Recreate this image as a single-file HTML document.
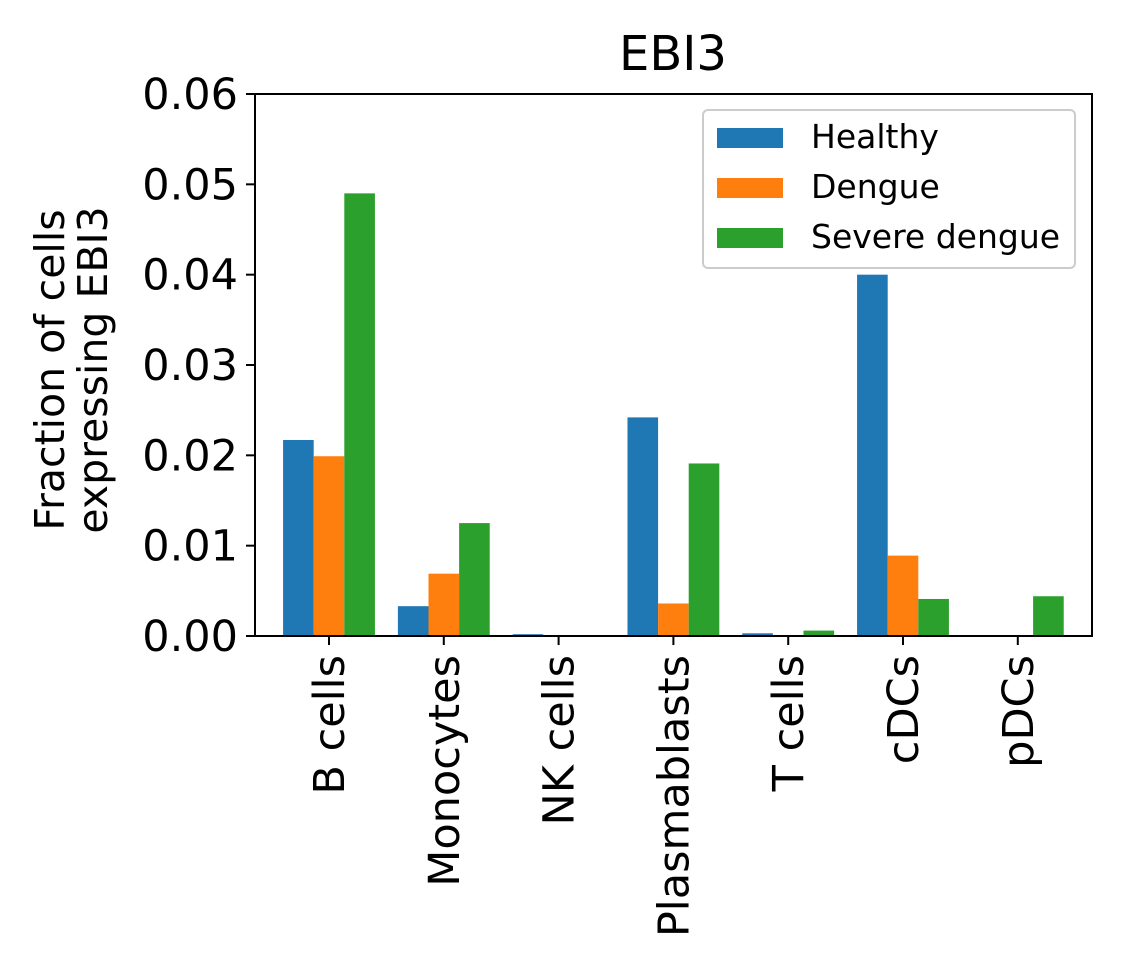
<!DOCTYPE html>
<html><head><meta charset="utf-8"><style>
html,body{margin:0;padding:0;background:#fff}
svg{display:block;font-family:"DejaVu Sans","Liberation Sans",sans-serif}
</style></head><body>
<svg id="chart" width="1121" height="969" viewBox="0 0 1121 969">
<text x="673" y="70" font-size="48" text-anchor="middle">EBI3</text>
<g id="bars"></g>
<g id="yaxis"></g>
<g id="xaxis"></g>
<rect x="255" y="94" width="837" height="542" fill="none" stroke="#000" stroke-width="2"/>
<g font-size="41" text-anchor="middle">
<text transform="translate(64,370) rotate(-90)">Fraction of cells</text>
<text transform="translate(107,370) rotate(-90)">expressing EBI3</text>
</g>
<g>
<rect x="703" y="110" width="372" height="158" rx="5" fill="#fff" stroke="#ccc" stroke-width="2"/>
<g id="legend-entries"></g>
</g>
</svg>
<script>
const categories=["B cells","Monocytes","NK cells","Plasmablasts","T cells","cDCs","pDCs"];
const seriesNames=["Healthy","Dengue","Severe dengue"];
const healthy=[0.0217,0.0033,0.0002,0.0242,0.0003,0.0400,0.0];
const dengue=[0.0199,0.0069,0.0001,0.0036,0.0,0.0089,0.0];
const severe=[0.0490,0.0125,0.0001,0.0191,0.0006,0.0041,0.0044];
const yTicks=[0,0.01,0.02,0.03,0.04,0.05,0.06];
const yTickLabels=["0.00","0.01","0.02","0.03","0.04","0.05","0.06"];
const colors=["#1f77b4","#ff7f0e","#2ca02c"];
const NS="http://www.w3.org/2000/svg";
const y0=636,ppu=542/0.06;
function yPos(v){return y0-v*ppu;}
const step=114.8,center0=329,bw=step*0.8/3;
function xCenter(i){return center0+i*step;}
const series=[healthy,dengue,severe];
const bars=document.getElementById('bars');
series.forEach((s,j)=>{s.forEach((v,i)=>{
 const r=document.createElementNS(NS,'rect');
 r.setAttribute('x',xCenter(i)-step*0.4+j*bw);
 r.setAttribute('y',yPos(v));
 r.setAttribute('width',bw);
 r.setAttribute('height',Math.max(0,y0-yPos(v)));
 r.setAttribute('fill',colors[j]);
 
 
 bars.appendChild(r);
});});
const ya=document.getElementById('yaxis');
yTicks.forEach((t,k)=>{
 const l=document.createElementNS(NS,'line');
 l.setAttribute('x1',246);l.setAttribute('x2',255);l.setAttribute('y1',yPos(t));l.setAttribute('y2',yPos(t));
 l.setAttribute('stroke','#000');l.setAttribute('stroke-width',2);
 
 
 ya.appendChild(l);
 const tx=document.createElementNS(NS,'text');
 tx.setAttribute('x',238);tx.setAttribute('y',yPos(t)+15);tx.setAttribute('font-size',43);tx.setAttribute('text-anchor','end');
 tx.textContent=yTickLabels[k];
 
 
 ya.appendChild(tx);
});
const xa=document.getElementById('xaxis');
categories.forEach((c,i)=>{
 const x=xCenter(i);
 const l=document.createElementNS(NS,'line');
 l.setAttribute('x1',x);l.setAttribute('x2',x);l.setAttribute('y1',636);l.setAttribute('y2',645);
 l.setAttribute('stroke','#000');l.setAttribute('stroke-width',2);
 
 
 xa.appendChild(l);
 const tx=document.createElementNS(NS,'text');
 tx.setAttribute('transform','translate('+(x+15)+',655) rotate(-90)');
 tx.setAttribute('font-size',43);tx.setAttribute('text-anchor','end');
 tx.textContent=c;
 
 
 xa.appendChild(tx);
});
const le=document.getElementById('legend-entries');
seriesNames.forEach((n,j)=>{
 const yy=137+j*50;
 const r=document.createElementNS(NS,'rect');
 r.setAttribute('x',717);r.setAttribute('y',yy-9);r.setAttribute('width',66);r.setAttribute('height',20);r.setAttribute('fill',colors[j]);
 
 
 le.appendChild(r);
 const tx=document.createElementNS(NS,'text');
 tx.setAttribute('x',811);tx.setAttribute('y',yy+11);tx.setAttribute('font-size',33);
 tx.textContent=n;
 
 
 le.appendChild(tx);
});
</script>
</body></html>
